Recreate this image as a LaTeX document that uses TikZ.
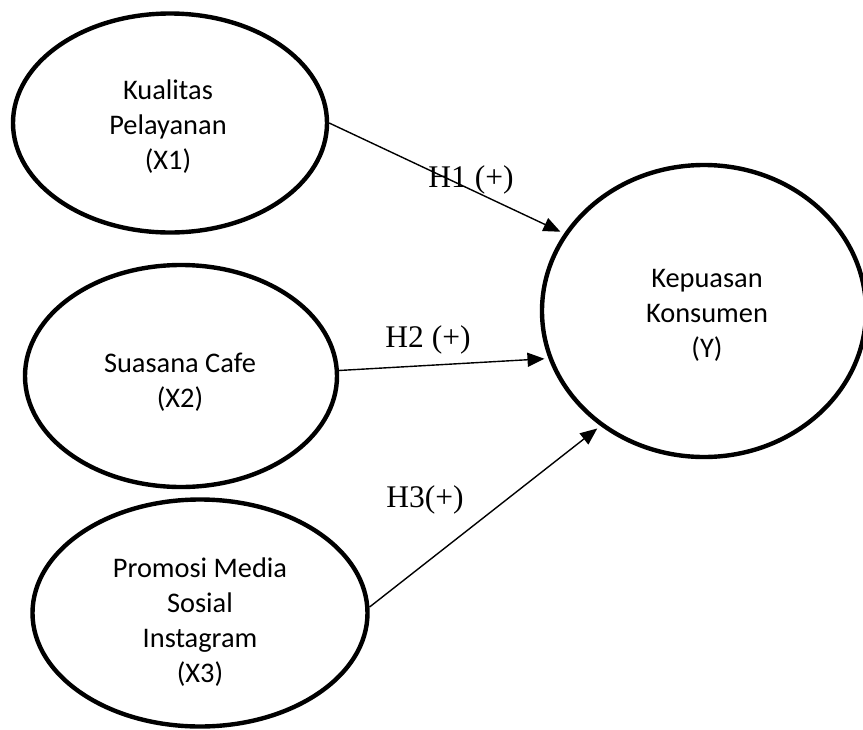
\documentclass[tikz,border=0pt]{standalone}
\usepackage{fontspec}
\setmainfont{Carlito}
\newfontfamily\labfont{Liberation Serif}
\usetikzlibrary{shapes.geometric,arrows.meta}
\begin{document}
\begin{tikzpicture}[x=1pt,y=-1pt,
  var/.style={ellipse,draw,line width=4.4pt,inner sep=0pt,align=center,
    font=\fontsize{28.4}{35}\selectfont},
  conn/.style={line width=1.4pt,-{Triangle[length=17pt,width=14pt]},shorten >=4pt},
  hyp/.style={font=\labfont\fontsize{31.5}{36}\selectfont,inner sep=0pt}]
\useasboundingbox (0,0) rectangle (863,729);
\node[var,minimum width=314pt,minimum height=219pt] (x1) at (170,123) {};
\node[var,minimum width=312pt,minimum height=222pt] (x2) at (181,376) {};
\node[var,minimum width=335pt,minimum height=227pt] (x3) at (200,613) {};
\node[var,minimum width=324pt,minimum height=292pt] (y) at (704,311) {};
\node[align=center,font=\fontsize{28.4}{35}\selectfont] (tx1) at (168,127) {Kualitas\\Pelayanan\\(X1)};
\node[align=center,font=\fontsize{28.4}{35}\selectfont] (tx2) at (180,382) {Suasana Cafe\\(X2)};
\node[align=center,font=\fontsize{28.4}{35}\selectfont] (tx3) at (200,622) {Promosi Media\\Sosial\\Instagram\\(X3)};
\node[align=center,font=\fontsize{28.4}{35}\selectfont] (ty) at (707,315) {Kepuasan\\Konsumen\\(Y)};
\draw[conn] (x1.east) -- (y.151);
\draw[conn] (x2.2) -- (y.197);
\draw[conn] (x3.2) -- (y.228);
\node[hyp] (h1) at (471,180) {H1 (+)};
\node[hyp] (h2) at (428,340) {H2 (+)};
\node[hyp] (h3) at (425,500) {H3(+)};
\end{tikzpicture}
\end{document}
